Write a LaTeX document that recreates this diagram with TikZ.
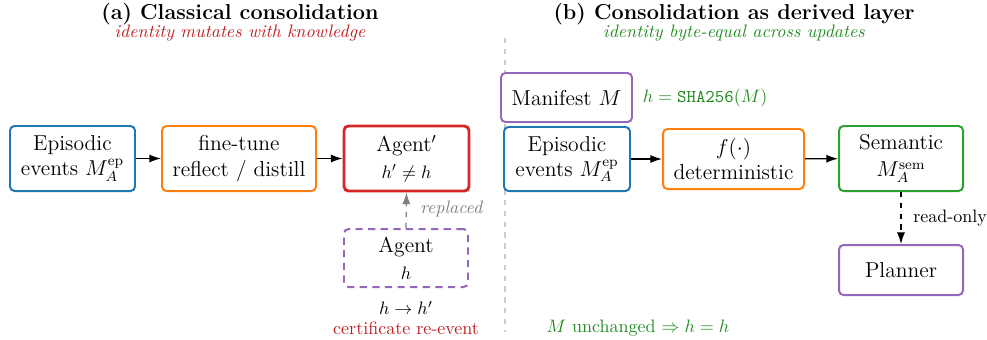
\documentclass[tikz,border=0pt]{standalone}
\usetikzlibrary{arrows.meta}
\definecolor{cblue}{RGB}{31,119,180}
\definecolor{corange}{RGB}{255,127,14}
\definecolor{cred}{RGB}{214,39,40}
\definecolor{cgreen}{RGB}{44,160,44}
\definecolor{cpurple}{RGB}{148,103,189}
\definecolor{tred}{RGB}{190,30,35}
\definecolor{tgreen}{RGB}{34,139,34}
\def\px{0.5556pt}
\begin{document}
\begin{tikzpicture}[x=0.5556pt,y=-0.5556pt,
  box/.style={draw, rounded corners=2.5pt, line width=1.1pt, inner sep=0pt, align=center, font=\large, fill=white},
  arr/.style={-{Latex[length=6.5pt,width=4.5pt]}, line width=0.7pt},
  title/.style={font=\large\bfseries},
  small/.style={font=\normalsize}
]
\useasboundingbox (0,0) rectangle (987,339);
% divider
\draw[dashed, black!20, line width=0.6pt] (505,38) -- (505,332);
% titles
\node[title] (ta) at (240,14) {(a) Classical consolidation};
\node[small, text=tred] (sa) at (240,33) {\itshape identity mutates with knowledge};
\node[title] (tb) at (734,14) {(b) Consolidation as derived layer};
\node[small, text=tgreen] (sb) at (734,33) {\itshape identity byte-equal across updates};
% left panel
\node[box, draw=cblue, minimum width=125*\px, minimum height=65*\px] (ep1) at (72.5,158.5) {Episodic\\events $M_A^{\mathrm{ep}}$};
\node[box, draw=corange, minimum width=154*\px, minimum height=65*\px] (ft) at (239,158.5) {fine-tune\\reflect / distill};
\node[box, draw=cred, line width=1.6pt, minimum width=125*\px, minimum height=65*\px] (ag2) at (406.5,158.5) {Agent$'$\\[1pt]{\normalsize $h'\neq h$}};
\node[box, draw=cpurple, dashed, dash pattern=on 4pt off 3pt, minimum width=124*\px, minimum height=58*\px] (ag1) at (406,258) {Agent\\[1pt]{\normalsize $h$}};
\draw[arr] (ep1) -- (ft);
\draw[arr] (ft) -- (ag2);
\draw[arr, gray, dashed] (ag1.north) -- (ag2.south);
\node[small, text=gray, anchor=west] (rep) at (414,209) {\itshape replaced};
\node[small] (hh) at (406,308) {$h\to h'$};
\node[small, text=tred] (cert) at (406,328) {certificate re-event};
% right panel
\node[box, draw=cpurple, minimum width=131*\px, minimum height=49*\px] (man) at (566.5,97.5) {Manifest $M$};
\node[small, text=tgreen] (sha) at (705,98) {$h = \texttt{SHA256}(M)$};
\node[box, draw=cblue, minimum width=126*\px, minimum height=64*\px] (ep2) at (567,159) {Episodic\\events $M_A^{\mathrm{ep}}$};
\node[box, draw=corange, minimum width=141*\px, minimum height=60*\px] (f) at (733.5,159) {$f(\cdot)$\\deterministic};
\node[box, draw=cgreen, minimum width=124*\px, minimum height=65*\px] (sem) at (901,158.5) {Semantic\\[1pt]$M_A^{\mathrm{sem}}$};
\node[box, draw=cpurple, minimum width=124*\px, minimum height=50*\px] (pl) at (901,270) {Planner};
\draw[arr] (ep2) -- (f);
\draw[arr] (f) -- (sem);
\draw[arr, dashed] (sem) -- (pl);
\node[small, anchor=west] (ro) at (907,218) {read-only};
\node[small, text=tgreen] (unch) at (638,328) {$M$ unchanged $\Rightarrow h = h$};
\end{tikzpicture}
\end{document}
